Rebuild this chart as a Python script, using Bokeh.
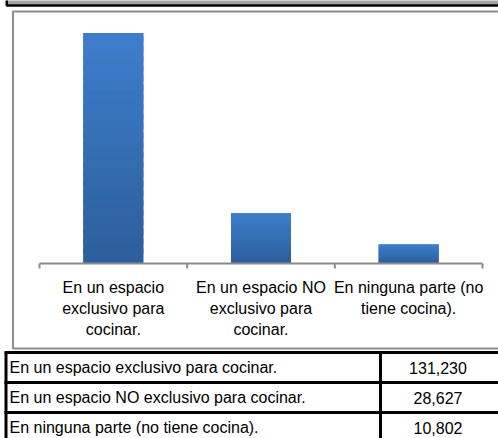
from bokeh.plotting import figure
from bokeh.models import ColumnDataSource, Range1d
from bokeh.core.properties import value
from bokeh.embed import file_html
from bokeh.resources import INLINE

# ---- data ----
categories = [
    "En un espacio exclusivo para cocinar.",
    "En un espacio NO exclusivo para cocinar.",
    "En ninguna parte (no tiene cocina).",
]
axis_labels = [
    "En un espacio\nexclusivo para\ncocinar.",
    "En un espacio NO\nexclusivo para\ncocinar.",
    "En ninguna parte (no\ntiene cocina).",
]
households = [131230, 28627, 10802]
value_labels = ["131,230", "28,627", "10,802"]
y_max = 140000

FONT = "Liberation Sans"
GRAY = "#8c8c8c"
BAR_TOP = (0x3D, 0x7E, 0xCC)
BAR_BOTTOM = (0x2D, 0x5E, 0x9B)

W, H = 498, 438
n = len(categories)

# pixel geometry of the chart area inside the canvas
ax_left, ax_right = 39, 482          # category axis span
ax_zero, ax_top = 263, 17            # y of value 0 and of y_max
cat_px = (ax_right - ax_left) / n
val_px = (ax_zero - ax_top) / y_max

x_range = Range1d(-ax_left / cat_px, n + (W - ax_right) / cat_px)
y_range = Range1d(-(H - ax_zero) / val_px, y_max + ax_top / val_px)

p = figure(x_range=x_range, y_range=y_range, width=W, height=H,
           output_backend="svg", toolbar_location=None,
           x_axis_location=None, y_axis_location=None, min_border=0,
           outline_line_color=None, background_fill_color="white",
           border_fill_color="white")
p.grid.visible = False

# extra ranges: pixel ranges for frames / table columns, row units for table rows
row_top, row_px = 352, 30
p.extra_x_ranges = {"px": Range1d(0, W)}
p.extra_y_ranges = {"px": Range1d(H, 0),
                    "rows": Range1d((H - row_top) / row_px, -row_top / row_px)}

# window header strip and chart border
p.quad(left=6.2, right=W + 20, top=-20, bottom=5, x_range_name="px", y_range_name="px",
       fill_color="#a6a6a6", line_color="black", line_width=2.5)
p.quad(left=12.5, right=W + 20, top=11, bottom=348, x_range_name="px", y_range_name="px",
       fill_color=None, line_color=GRAY, line_width=2)

# bars (with a vertical gradient made of thin bands)
xs = [i + 0.5 for i in range(n)]
src = ColumnDataSource(dict(x=xs, val=households, label=axis_labels))
p.vbar(x="x", top="val", bottom=0, width=0.406, source=src,
       fill_color="#3570b8", line_color=None)

N = 24
gx, gb, gt, gc = [], [], [], []
for x, v in zip(xs, households):
    for k in range(N):
        f = (k + 0.5) / N
        c = tuple(round(b + (t - b) * f) for b, t in zip(BAR_BOTTOM, BAR_TOP))
        gx.append(x)
        gb.append(v * k / N)
        gt.append(min(v, v * (k + 1.6) / N))
        gc.append("#%02x%02x%02x" % c)
p.vbar(x=gx, bottom=gb, top=gt, width=0.406, fill_color=gc, line_color=None)

# category axis line, boundary ticks and labels
edges = list(range(n + 1))
p.segment(x0=0, x1=n, y0=0, y1=0, line_color=GRAY, line_width=2)
p.segment(x0=edges, x1=edges, y0=0, y1=-5 / val_px, line_color=GRAY, line_width=2)
p.text(x="x", y=-15 / val_px, text="label", source=src,
       text_align="center", text_baseline="top", text_line_height=1.26,
       text_font=value(FONT), text_font_size="16px", text_color="black")

# ---- table ----
rows = [i + 0.5 for i in range(n)]
bounds = list(range(n + 1))
p.segment(x0=4, x1=W + 20, y0=bounds, y1=bounds, x_range_name="px", y_range_name="rows",
          line_color="black", line_width=3)
p.segment(x0=[5.5, 380], x1=[5.5, 380], y0=0, y1=n,
          x_range_name="px", y_range_name="rows", line_color="black", line_width=3)
p.text(x=9, y=rows, text=categories, x_range_name="px", y_range_name="rows",
       text_baseline="middle", text_align="left",
       text_font=value(FONT), text_font_size="16px", text_color="black")
p.text(x=437.5, y=rows, text=value_labels, x_range_name="px", y_range_name="rows",
       text_baseline="middle", text_align="center",
       text_font=value(FONT), text_font_size="16px", text_color="black")

open("out.html", "w").write(file_html(p, INLINE))
